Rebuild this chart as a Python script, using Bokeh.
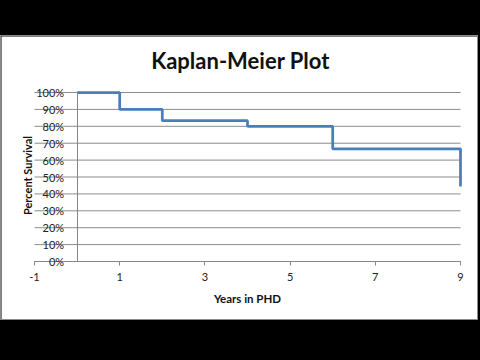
import math
from bokeh.plotting import figure
from bokeh.models import FixedTicker, Range1d, Spacer, NumeralTickFormatter, Label
from bokeh.layouts import column
from bokeh.embed import file_html
from bokeh.resources import INLINE

# Data
years = [0, 1, 2, 4, 6, 9]
survival = [1.0, 0.9, 0.833, 0.8, 0.667, 0.444]
x_ticks = [-1, 1, 3, 5, 7, 9]
x_tick_labels = ["-1", "1", "3", "5", "7", "9"]
y_ticks = [0.0, 0.1, 0.2, 0.3, 0.4, 0.5, 0.6, 0.7, 0.8, 0.9, 1.0]
title_text = "Kaplan-Meier Plot"
x_title = "Years in PHD"
y_title = "Percent Survival"

FONT = "Lato"

# The frame covers the whole white chart box; axes cross at 0 inside it.
X0, X1 = -1.7746, 9.446
Y0, Y1 = -0.355, 1.3314

p = figure(width=478, height=285, output_backend="svg", toolbar_location=None,
           x_range=Range1d(X0, X1), y_range=Range1d(Y0, Y1),
           min_border_left=0, min_border_right=0, min_border_top=0, min_border_bottom=0)
p.styles = {"border": "1px solid #8a8a8a"}
p.background_fill_color = "white"
p.border_fill_color = "white"
p.outline_line_color = None

# horizontal gridlines spanning the x-axis extent only
p.xgrid.visible = False
p.ygrid.visible = False
n = len(y_ticks)
p.segment(x0=[x_ticks[0]] * n, x1=[x_ticks[-1]] * n, y0=y_ticks, y1=y_ticks,
          line_color="#8c8c8c", line_width=1, level="underlay")

# y axis
p.yaxis.fixed_location = 0
p.yaxis.bounds = (0, 1)
p.yaxis.ticker = FixedTicker(ticks=y_ticks)
p.yaxis.formatter = NumeralTickFormatter(format="0%")
p.yaxis.axis_line_color = "#868686"
p.yaxis.major_tick_out = 0
p.yaxis.major_tick_in = 0
p.yaxis.minor_tick_line_color = None
p.yaxis.major_label_standoff = 13
p.yaxis.major_label_text_font = FONT
p.yaxis.major_label_text_font_size = "11px"
p.yaxis.major_label_text_color = "#222222"

# x axis
p.xaxis.fixed_location = 0
p.xaxis.bounds = (-1, 9)
p.xaxis.ticker = FixedTicker(ticks=x_ticks)
p.xaxis.major_label_overrides = {t: s for t, s in zip(x_ticks, x_tick_labels)}
p.xaxis.axis_line_color = "#868686"
p.xaxis.major_tick_line_color = "#868686"
p.xaxis.major_tick_out = 4
p.xaxis.major_tick_in = 0
p.xaxis.minor_tick_line_color = None
p.xaxis.major_label_text_font = FONT
p.xaxis.major_label_text_font_size = "11px"
p.xaxis.major_label_text_color = "#222222"
p.xaxis.major_label_standoff = 7
p.xaxis.axis_label = x_title
p.xaxis.axis_label_text_font = FONT
p.xaxis.axis_label_text_font_size = "11.5px"
p.xaxis.axis_label_text_font_style = "bold"
p.xaxis.axis_label_text_color = "#111111"
p.xaxis.axis_label_standoff = 8

p.add_layout(Label(x=(X0 + X1) / 2, y=1.19, text=title_text, text_align="center",
                   text_baseline="alphabetic", text_font=FONT, text_font_size="22px",
                   text_font_style="bold", text_color="#111111"))
p.add_layout(Label(x=-1.164, y=0.509, text=y_title, angle=math.pi / 2, text_align="center",
                   text_baseline="middle", text_font=FONT, text_font_size="11px",
                   text_font_style="bold", text_color="#111111"))

p.step(years, survival, mode="after", line_color="#4A7EBB", line_width=2.75)

layout = column(Spacer(width=480, height=35), p, spacing=0)

html = file_html(layout, INLINE)
html = html.replace("<head>", "<head><style>html,body{margin:0;padding:0;background:#000;}</style>", 1)
open("out.html", "w").write(html)
